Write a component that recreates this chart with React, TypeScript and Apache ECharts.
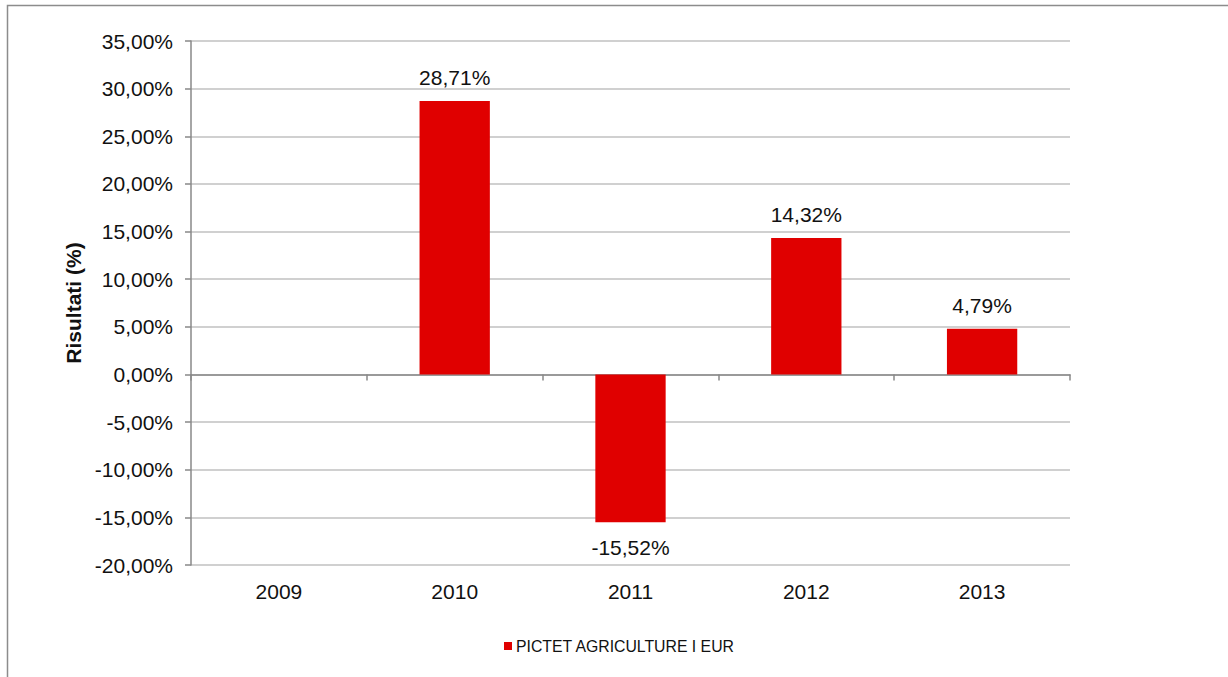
import React, { useEffect, useRef } from "react";
import * as echarts from "echarts";

const categories = ["2009", "2010", "2011", "2012", "2013"];
const values: (number | null)[] = [null, 28.71, -15.52, 14.32, 4.79];
const seriesName = "PICTET AGRICULTURE I EUR";
const axisTitle = "Risultati (%)";

const fmt = (v: number) => v.toFixed(2).replace(".", ",") + "%";

export default function App() {
  const ref = useRef<HTMLDivElement>(null);
  useEffect(() => {
    if (!ref.current) return;
    const chart = echarts.init(ref.current, null, { renderer: "svg" });
    const font = "Liberation Sans, Arial, sans-serif";
    const data = values.map((v) =>
      v == null
        ? { value: null }
        : {
            value: v,
            label: { position: v < 0 ? "bottom" : "top", distance: v < 0 ? 15 : 13 },
          }
    );
    chart.setOption({
      animation: false,
      backgroundColor: "#ffffff",
      textStyle: { fontFamily: font },
      graphic: [
        {
          type: "rect",
          shape: { x: 7.5, y: 5.5, width: 1400, height: 900 },
          style: { fill: "none", stroke: "#8c8c8c", lineWidth: 1.5 },
          silent: true,
          z: -10,
        },
      ],
      grid: { left: 191, right: 158, top: 41, bottom: 112, containLabel: false },
      legend: {
        data: [seriesName],
        left: 499,
        top: 633,
        itemWidth: 8,
        itemHeight: 8,
        itemGap: 4,
        icon: "rect",
        textStyle: { fontSize: 15.8, color: "#111", fontFamily: font, padding: [0, 0, 0, -1] },
      },
      xAxis: [
        {
          type: "category",
          data: categories,
          position: "bottom",
          axisLine: { show: false, onZero: false },
          axisTick: { show: false },
          splitLine: { show: false },
          axisLabel: { fontSize: 21, color: "#111", margin: 16, fontFamily: font },
        },
        {
          type: "category",
          data: categories,
          position: "bottom",
          axisLine: { show: true, onZero: true, lineStyle: { color: "#888888", width: 1.5 } },
          axisTick: { show: true, length: 6, lineStyle: { color: "#888888", width: 1.5 } },
          axisLabel: { show: false },
          splitLine: { show: false },
        },
      ],
      yAxis: {
        type: "value",
        min: -20,
        max: 35,
        interval: 5,
        name: axisTitle,
        nameLocation: "middle",
        nameGap: 107,
        nameTextStyle: { fontSize: 21, fontWeight: "bold", color: "#111", fontFamily: font },
        axisLine: { show: true, lineStyle: { color: "#888888", width: 1.5 } },
        axisTick: { show: true, length: 6, lineStyle: { color: "#888888", width: 1.5 } },
        axisLabel: {
          fontSize: 21,
          color: "#111",
          margin: 18,
          fontFamily: font,
          formatter: (v: number) => fmt(v),
        },
        splitLine: { show: true, lineStyle: { color: "#c0c0c0", width: 1.5 } },
      },
      series: [
        {
          name: seriesName,
          type: "bar",
          xAxisIndex: 0,
          data,
          barCategoryGap: "60%",
          itemStyle: { color: "#e00000" },
          label: {
            show: true,
            fontSize: 21,
            color: "#111",
            fontFamily: font,
            formatter: (p: any) => (p.value == null ? "" : fmt(p.value)),
          },
        },
      ],
    });
    return () => chart.dispose();
  }, []);
  return (
    <div
      ref={ref}
      style={{ position: "fixed", left: 0, top: 0, width: 1228, height: 677 }}
    />
  );
}
